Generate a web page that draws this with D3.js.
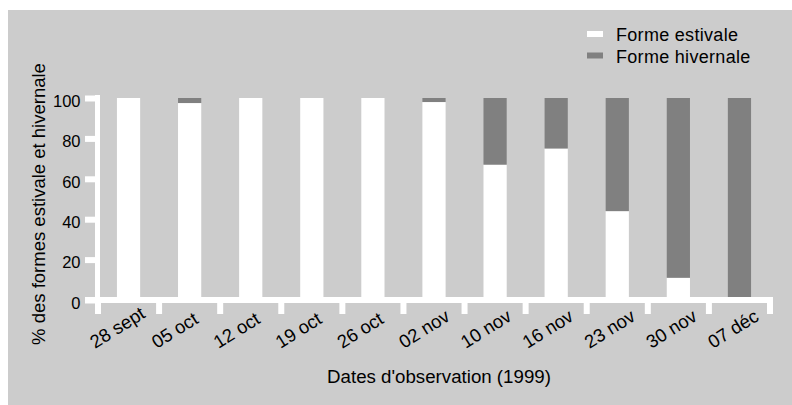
<!DOCTYPE html>
<html>
<head>
<meta charset="utf-8">
<script src="https://cdn.jsdelivr.net/npm/d3@7"></script>
<style>
  html, body { margin: 0; padding: 0; background: #ffffff; }
  svg { display: block; }
  text { font-family: "Liberation Sans", Arial, sans-serif; fill: #000; }
</style>
</head>
<body>
<svg id="chart" width="792" height="405"></svg>
<script>
// ---- data ----
const dates = ["28 sept", "05 oct", "12 oct", "19 oct", "26 oct", "02 nov", "10 nov", "16 nov", "23 nov", "30 nov", "07 déc"];
const estivale = [100, 97.5, 100, 100, 100, 98, 67, 75, 44, 11, 0];
const hivernale = [0, 2.5, 0, 0, 0, 2, 33, 25, 56, 89, 100];
const seriesNames = ["Forme estivale", "Forme hivernale"];
const yTicks = [0, 20, 40, 60, 80, 100];
const xTitle = "Dates d'observation (1999)";
const yTitle = "% des formes estivale et hivernale";

// ---- layout ----
const svg = d3.select("#chart");
const colors = { "Forme estivale": "#ffffff", "Forme hivernale": "#808080" };
const panelColor = "#cccccc";

svg.append("rect").attr("x", 8).attr("y", 10).attr("width", 784).attr("height", 395).attr("fill", panelColor);

const x = d3.scaleBand().domain(dates).range([98, 770]).paddingInner(0.62).paddingOuter(0.31);
const y = d3.scaleLinear().domain([0, 100]).range([300, 98]);
const xLab = d3.scalePoint().domain(dates).range([95, 713]);

// stacked bars
const rows = dates.map((d, i) => ({ date: d, "Forme estivale": estivale[i], "Forme hivernale": hivernale[i] }));
const stack = d3.stack().keys(seriesNames)(rows);
svg.append("g").selectAll("g").data(stack).join("g")
  .attr("fill", s => colors[s.key])
  .selectAll("rect").data(s => s.map(v => ({ v, date: v.data.date }))).join("rect")
  .attr("x", d => x(d.date))
  .attr("width", x.bandwidth())
  .attr("y", d => y(d.v[1]))
  .attr("height", d => y(d.v[0]) - y(d.v[1]));

// y axis
const yAxis = d3.axisLeft(y).tickValues(yTicks).tickSize(12.5).tickSizeOuter(0).tickPadding(5);
const gy = svg.append("g").attr("transform", "translate(97.5,0)").call(yAxis);
gy.select(".domain").attr("stroke", "#fff").attr("stroke-width", 5).attr("d", `M0,${y(100) - 3}V${y(0)}`);
gy.selectAll(".tick line").attr("stroke", "#fff").attr("stroke-width", 6);
gy.selectAll(".tick text").attr("font-size", 16.5).attr("font-family", "Liberation Sans, Arial, sans-serif")
  .attr("fill", "#000").attr("x", -17).attr("dy", 0).attr("y", 8.3);

// x axis
const step = x.step();
const bounds = dates.map(d => x(d) + x.bandwidth() / 2 - step / 2).concat([x(dates[dates.length - 1]) + x.bandwidth() / 2 + step / 2]);
const gx = svg.append("g");
gx.append("line").attr("x1", 85).attr("x2", bounds[bounds.length - 1] + 3).attr("y1", y(0)).attr("y2", y(0))
  .attr("stroke", "#fff").attr("stroke-width", 6);
gx.selectAll("line.tk").data(bounds).join("line").attr("class", "tk")
  .attr("x1", d => d).attr("x2", d => d).attr("y1", y(0)).attr("y2", 314)
  .attr("stroke", "#fff").attr("stroke-width", 6);
gx.selectAll("text.lab").data(dates).join("text").attr("class", "lab")
  .attr("transform", d => `translate(${xLab(d)},349) rotate(-32)`)
  .attr("font-size", 18.5)
  .text(d => d);

// titles
svg.append("text").attr("x", 439).attr("y", 383.3).attr("text-anchor", "middle").attr("font-size", 18.7).text(xTitle);
svg.append("text").attr("transform", "translate(45,204) rotate(-90)").attr("text-anchor", "middle").attr("font-size", 18.5).text(yTitle);

// legend
const leg = svg.append("g");
seriesNames.forEach((s, i) => {
  leg.append("rect").attr("x", 587).attr("y", 31 + i * 21.5).attr("width", 16).attr("height", 6).attr("fill", colors[s]);
  leg.append("text").attr("x", 616).attr("y", 40.7 + i * 22).attr("font-size", 18).attr("letter-spacing", 0.3).text(s);
});
</script>
</body>
</html>
